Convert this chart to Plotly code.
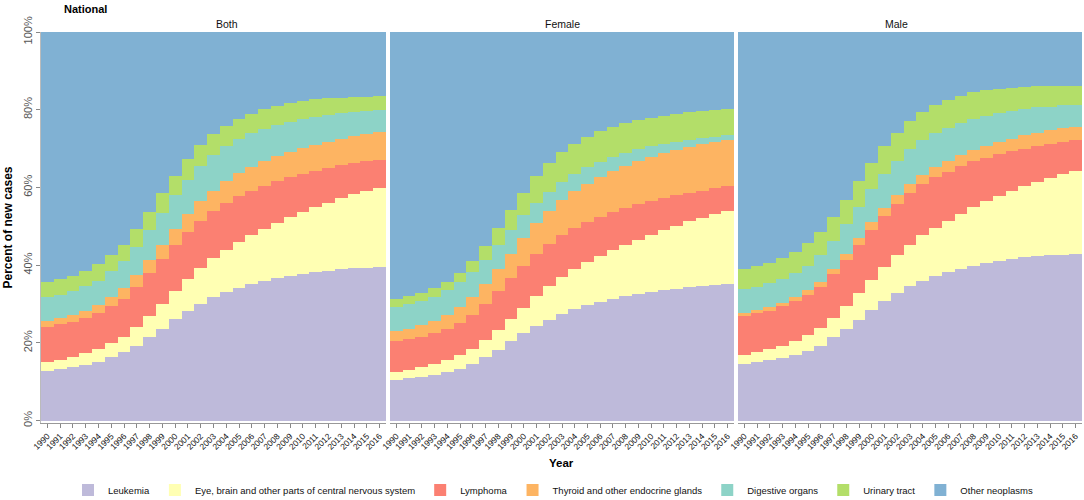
import plotly.graph_objects as go
import numpy as np

YEARS = list(range(1990, 2017))
YEAR_LABELS = [str(y) for y in YEARS]
PANELS = ["Both", "Female", "Male"]
CATEGORIES = ["Leukemia", "Eye, brain and other parts of central nervous system", "Lymphoma",
              "Thyroid and other endocrine glands", "Digestive organs", "Urinary tract", "Other neoplasms"]
COLORS = ["#BEBADA", "#FFFFB3", "#FB8072", "#FDB462", "#8DD3C7", "#B3DE69", "#80B1D3"]

# Cumulative upper boundary (%) of each category band
BOTH_LEUKEMIA = [12.8, 13.3, 13.8, 14.4, 15.2, 16.3, 17.6, 19.3, 21.4, 23.7, 26.1, 28.2, 30.1, 31.7, 33.0, 34.1, 35.1, 35.9, 36.6, 37.3, 37.8, 38.3, 38.6, 39.0, 39.2, 39.4, 39.6]
BOTH_EYE = [15.1, 15.7, 16.5, 17.3, 18.5, 19.9, 21.6, 24.1, 27.0, 30.1, 33.3, 36.4, 39.3, 41.8, 44.0, 46.0, 47.7, 49.3, 50.9, 52.3, 53.7, 55.0, 56.1, 57.2, 58.2, 59.1, 59.9]
BOTH_LYMPHOMA = [24.1, 24.8, 25.5, 26.4, 27.7, 29.5, 31.4, 34.5, 37.9, 41.5, 45.1, 48.6, 51.5, 54.0, 56.1, 57.9, 59.2, 60.5, 61.6, 62.6, 63.5, 64.3, 65.0, 65.8, 66.3, 66.8, 67.1]
BOTH_THYROID = [25.7, 26.5, 27.2, 28.3, 29.8, 31.7, 34.2, 37.4, 41.4, 45.2, 49.2, 53.1, 56.4, 59.2, 61.6, 63.7, 65.2, 66.7, 68.0, 69.2, 70.2, 71.0, 71.7, 72.5, 73.2, 73.8, 74.3]
BOTH_DIGESTIVE = [31.8, 32.4, 33.4, 34.6, 36.0, 38.4, 41.1, 44.8, 49.0, 53.5, 58.0, 61.9, 65.4, 68.3, 70.6, 72.4, 73.9, 75.1, 76.0, 76.9, 77.6, 78.2, 78.7, 79.1, 79.5, 79.7, 80.0]
BOTH_URINARY = [35.8, 36.4, 37.2, 38.4, 40.2, 42.5, 45.3, 49.3, 53.8, 58.5, 63.0, 67.2, 70.9, 73.7, 75.9, 77.7, 79.0, 80.1, 81.0, 81.7, 82.3, 82.7, 83.0, 83.1, 83.3, 83.4, 83.5]

FEMALE_LEUKEMIA = [10.5, 10.9, 11.3, 11.8, 12.6, 13.4, 14.6, 16.4, 18.3, 20.4, 22.5, 24.4, 26.0, 27.5, 28.7, 29.7, 30.6, 31.3, 32.0, 32.6, 33.1, 33.6, 34.0, 34.3, 34.7, 34.9, 35.1]
FEMALE_EYE = [12.5, 13.1, 13.7, 14.5, 15.5, 16.8, 18.5, 20.7, 23.4, 26.2, 29.1, 32.0, 34.6, 37.0, 38.9, 40.7, 42.4, 43.8, 45.2, 46.6, 47.9, 49.1, 50.2, 51.3, 52.2, 53.2, 54.0]
FEMALE_LYMPHOMA = [20.5, 20.9, 21.6, 22.5, 23.6, 25.2, 27.3, 30.1, 33.3, 36.6, 39.9, 42.9, 45.5, 47.7, 49.7, 51.2, 52.5, 53.7, 54.7, 55.7, 56.5, 57.3, 58.0, 58.7, 59.2, 59.8, 60.3]
FEMALE_THYROID = [23.0, 23.7, 24.6, 25.7, 27.2, 29.2, 31.7, 35.1, 39.0, 42.9, 47.1, 50.8, 54.0, 56.8, 59.2, 61.0, 62.8, 64.2, 65.6, 66.8, 67.9, 68.8, 69.7, 70.5, 71.1, 71.7, 72.3]
FEMALE_DIGESTIVE = [29.2, 30.1, 30.8, 31.9, 33.7, 35.7, 38.3, 41.4, 45.2, 49.1, 52.8, 56.1, 58.9, 61.5, 63.5, 65.2, 66.6, 67.8, 68.8, 69.8, 70.6, 71.2, 71.8, 72.3, 72.8, 73.1, 73.4]
FEMALE_URINARY = [31.3, 32.0, 32.8, 34.1, 35.8, 38.1, 41.2, 45.0, 49.6, 54.2, 58.7, 62.9, 66.2, 69.0, 71.3, 73.1, 74.5, 75.6, 76.5, 77.3, 77.9, 78.5, 78.9, 79.3, 79.6, 79.9, 80.1]

MALE_LEUKEMIA = [14.6, 15.0, 15.5, 16.1, 17.0, 18.0, 19.3, 21.4, 23.7, 26.0, 28.5, 30.8, 32.9, 34.7, 36.0, 37.2, 38.2, 39.1, 39.9, 40.6, 41.1, 41.5, 42.0, 42.3, 42.6, 42.7, 42.9]
MALE_EYE = [16.9, 17.6, 18.4, 19.3, 20.5, 22.1, 23.8, 26.5, 29.5, 32.8, 36.2, 39.6, 42.6, 45.3, 47.7, 49.7, 51.5, 53.3, 55.0, 56.5, 57.9, 59.2, 60.4, 61.5, 62.5, 63.4, 64.3]
MALE_LYMPHOMA = [27.0, 27.7, 28.3, 29.4, 30.7, 32.3, 34.5, 37.7, 41.3, 45.2, 49.1, 52.7, 55.8, 58.6, 60.8, 62.7, 64.1, 65.5, 66.7, 67.7, 68.6, 69.3, 70.0, 70.7, 71.2, 71.7, 72.1]
MALE_THYROID = [27.7, 28.4, 29.2, 30.3, 31.7, 33.5, 35.8, 39.1, 42.9, 46.9, 51.0, 54.8, 58.0, 60.9, 63.3, 65.3, 66.9, 68.3, 69.6, 70.7, 71.7, 72.6, 73.4, 74.1, 74.7, 75.2, 75.6]
MALE_DIGESTIVE = [33.8, 34.5, 35.4, 36.5, 37.9, 39.9, 42.6, 46.3, 50.5, 55.0, 59.5, 63.4, 66.9, 69.8, 72.2, 74.0, 75.4, 76.7, 77.7, 78.5, 79.2, 79.7, 80.2, 80.6, 80.8, 81.1, 81.3]
MALE_URINARY = [39.1, 39.8, 40.6, 41.8, 43.4, 45.6, 48.5, 52.4, 56.8, 61.6, 66.3, 70.6, 74.1, 77.1, 79.4, 81.1, 82.5, 83.6, 84.5, 85.0, 85.4, 85.7, 85.9, 86.0, 86.1, 86.1, 86.1]

TOTAL = 100.0

panel_tops = {
    "Both": [BOTH_LEUKEMIA, BOTH_EYE, BOTH_LYMPHOMA, BOTH_THYROID, BOTH_DIGESTIVE, BOTH_URINARY],
    "Female": [FEMALE_LEUKEMIA, FEMALE_EYE, FEMALE_LYMPHOMA, FEMALE_THYROID, FEMALE_DIGESTIVE, FEMALE_URINARY],
    "Male": [MALE_LEUKEMIA, MALE_EYE, MALE_LYMPHOMA, MALE_THYROID, MALE_DIGESTIVE, MALE_URINARY],
}

FONT = "Liberation Sans, Arial, sans-serif"
fig = go.Figure()

# layout geometry (pixels)
W, H = 1084, 500
ML, MR, MT, MB = 41, 2, 32, 77
pw = W - ML - MR
ph = H - MT - MB
domains = [(0.0, 345 / pw), (349 / pw, 693 / pw), (697 / pw, 1.0)]

for pi, panel in enumerate(PANELS):
    tops = np.array(panel_tops[panel] + [[TOTAL] * len(YEARS)])
    bottoms = np.vstack([np.zeros(len(YEARS)), tops[:-1]])
    shares = tops - bottoms
    xa = "x" if pi == 0 else f"x{pi + 1}"
    ya = "y" if pi == 0 else f"y{pi + 1}"
    for ci, cat in enumerate(CATEGORIES):
        fig.add_trace(go.Bar(
            x=YEARS, y=shares[ci], name=cat, legendgroup=cat, showlegend=(pi == 0),
            marker=dict(color=COLORS[ci], line=dict(width=0)), width=1.0,
            xaxis=xa, yaxis=ya, hovertemplate=f"{cat}<br>%{{x}}: %{{y:.1f}}%<extra>{panel}</extra>",
        ))

layout = dict(
    width=W, height=H, barmode="stack", bargap=0,
    margin=dict(l=ML, r=MR, t=MT, b=MB, autoexpand=False),
    plot_bgcolor="white", paper_bgcolor="white",
    font=dict(family=FONT, color="#000"),
    legend=dict(orientation="h", x=553 / W, xanchor="center", xref="container",
                y=(H - 490) / H, yanchor="middle", yref="container",
                font=dict(size=9.5, color="#111"), traceorder="normal", itemwidth=30,
                tracegroupgap=0),
)
for pi in range(3):
    sfx = "" if pi == 0 else str(pi + 1)
    layout["xaxis" + sfx] = dict(
        domain=list(domains[pi]), anchor="y" + sfx, range=[1989.5, 2016.5],
        tickmode="array", tickvals=YEARS, ticktext=YEAR_LABELS, tickangle=-45,
        tickfont=dict(size=8.5, color="#111"), ticks="outside", ticklen=4, tickcolor="#888",
        showline=True, linecolor="#999", linewidth=1, showgrid=False, zeroline=False, fixedrange=True,
    )
    layout["yaxis" + sfx] = dict(
        anchor="x" + sfx, range=[-0.6, 100], tickvals=[0, 20, 40, 60, 80, 100],
        ticktext=["0%", "20%", "40%", "60%", "80%", "100%"], tickangle=-90,
        showticklabels=(pi == 0), ticks="outside" if pi == 0 else "", ticklen=4, tickcolor="#888",
        tickfont=dict(size=11, color="#555"), showline=(pi == 0), linecolor="#bbb",
        showgrid=False, zeroline=False, fixedrange=True,
    )
layout["yaxis"]["title"] = dict(text="<b>Percent of new cases</b>", font=dict(size=12), standoff=6)
fig.update_layout(**layout)

for pi, panel in enumerate(PANELS):
    d = domains[pi]
    fig.add_annotation(text=panel, x=(d[0] + d[1]) / 2, xref="paper", y=1.0, yref="paper",
                       yanchor="middle", yshift=MT - 24, showarrow=False, font=dict(size=10.5, color="#111"))
fig.add_annotation(text="<b>National</b>", x=21 / pw, xref="paper", xanchor="left", y=1.0, yref="paper",
                   yanchor="middle", yshift=MT - 9, showarrow=False, font=dict(size=11, color="#000"))
fig.add_annotation(text="<b>Year</b>", x=0.5, xref="paper", y=0, yref="paper",
                   yanchor="middle", yshift=-(463 - (MT + ph)), showarrow=False, font=dict(size=11.5, color="#000"))

fig.write_html("out.html", config={"displayModeBar": False},
               post_script="document.body.style.margin='0';document.body.style.overflow='hidden';")
